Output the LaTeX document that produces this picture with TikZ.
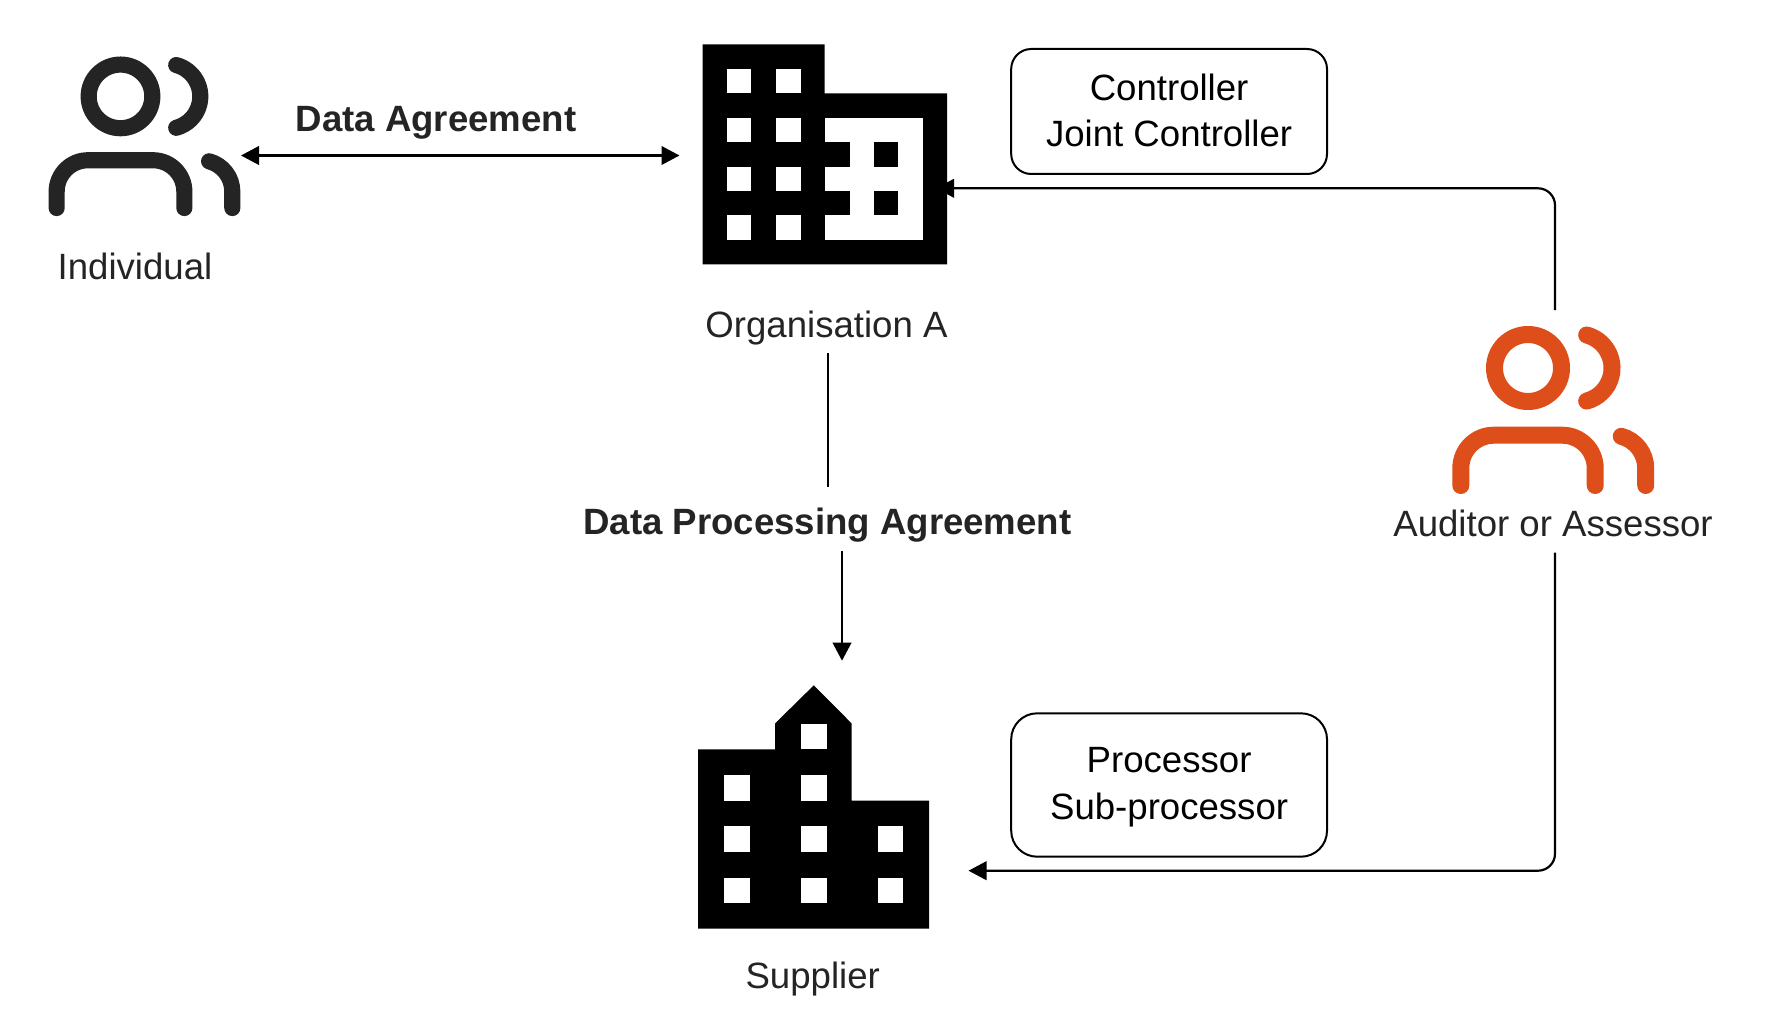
\documentclass[tikz,border=0pt]{standalone}
\usepackage{fontspec}
\setmainfont{Liberation Sans}
\usetikzlibrary{arrows.meta}
\definecolor{inkdark}{HTML}{242424}
\definecolor{auditorange}{HTML}{DD4E1A}
\newcommand{\personicon}[4]{%
  \begin{scope}[shift={(#1,#2)},scale=#3,draw=#4,line width=#3*17pt,line cap=round]
    \draw (0,0) circle[radius=33.5];
    \draw (58.65,-33) arc[start angle=-75,end angle=75,radius=34.2];
    \draw (-67.2,117.5) -- (-67.2,100.2) arc[start angle=180,end angle=270,radius=33]
      -- (34.2,67.2) arc[start angle=270,end angle=360,radius=33] -- (67.2,117.5);
    \draw (93.24,68.3) arc[start angle=-75,end angle=0,radius=33] -- (117.7,117.5);
  \end{scope}}
\newcommand{\winrect}[4]{\fill[white] (#1,#3) rectangle (#2,#4);}
\newcommand{\blkrect}[4]{\fill[black] (#1,#3) rectangle (#2,#4);}
\tikzset{
  x=1pt,y=-1pt,
  lbl/.style={anchor=base,inner sep=0pt,text=inkdark,font=\fontsize{36.6}{46.7}\selectfont},
  boldlbl/.style={lbl,font=\fontsize{36.6}{46.7}\selectfont\bfseries},
  rolebox/.style={draw=black,line width=2pt,fill=white,inner sep=0pt,align=center,
    minimum width=315.8pt,text=black,font=\fontsize{36.6}{46.7}\selectfont},
  iconbox/.style={inner sep=0pt,outer sep=0pt},
  conn/.style={draw=black,line width=2.2pt},
}
\begin{document}
\begin{tikzpicture}
\useasboundingbox (0,0) rectangle (1768,1032);
\fill[white] (0,0) rectangle (1768,1032);

% Individual
\personicon{120.5}{96.4}{0.95}{inkdark}
\node[iconbox,minimum width=192pt,minimum height=122pt] (individual) at (145,155.5) {};
\node[lbl] (individuallabel) at (135,279) {Individual};

% Organisation A
\fill[black] (702.6,44.3) -- (824.6,44.3) -- (824.6,93.3) -- (947,93.3) -- (947,264.3) -- (702.6,264.3) -- cycle;
\foreach \ya/\yb in {69/93.3,117.7/142,166.7/191,215.3/240}{
  \winrect{727.2}{751.4}{\ya}{\yb}
  \winrect{776.2}{800.5}{\ya}{\yb}
}
\winrect{824.6}{922.6}{117.7}{240}
\blkrect{824.6}{849.6}{142}{166.7}
\blkrect{824.6}{849.6}{191}{215.3}
\blkrect{874}{898.3}{142}{166.7}
\blkrect{874}{898.3}{191}{215.3}
\node[iconbox,minimum width=244.4pt,minimum height=215.8pt] (orga) at (824.8,155.5) {};
\node[lbl] (orgalabel) at (826.5,337.7) {Organisation A};

% Supplier
\fill[black] (698,749.3) -- (775.2,749.3) -- (775.2,723.3) -- (813.8,685.3) -- (851.5,723.3) -- (851.5,800.7)
  -- (929,800.7) -- (929,928.7) -- (698,928.7) -- cycle;
\foreach \xa/\xb/\ya/\yb in {
  801/826.7/724/749.3, 801/826.7/775/800.7, 801/826.7/826.3/852, 801/826.7/877.7/903.3,
  723.8/749.5/775/800.7, 723.8/749.5/826.3/852, 723.8/749.5/877.7/903.3,
  878/903.3/826.3/852, 878/903.3/877.7/903.3}{
  \winrect{\xa}{\xb}{\ya}{\yb}
}
\node[iconbox,minimum width=231pt,minimum height=243.4pt] (supplier) at (813.5,807) {};
\node[lbl] (supplierlabel) at (812.7,988.4) {Supplier};

% Auditor
\personicon{1528}{368}{1}{auditorange}
\node[iconbox,minimum width=330pt,minimum height=242.7pt] (auditor) at (1555,431.35) {};
\node[lbl] (auditorlabel) at (1553,536) {Auditor or Assessor};

% Role boxes
\node[rolebox,rounded corners=20pt,minimum height=125pt] (controllerbox) at (1169.1,111.5)
  {\rule{0pt}{30pt}Controller\\Joint Controller\rule[-5.7pt]{0pt}{5.7pt}};
\node[rolebox,rounded corners=26pt,minimum height=143.4pt] (processorbox) at (1169.1,785)
  {\rule{0pt}{30pt}Processor\\Sub-processor\rule[-7.7pt]{0pt}{7.7pt}};

% Connector labels
\node[boldlbl] (dalabel) at (436,131.7) {Data Agreement};
\node[boldlbl] (dpalabel) at (827.4,534.3) {Data Processing Agreement};

% Connectors
\coordinate (orgin) at (936,188.3);
\coordinate (supin) at (968.5,870.7);
\coordinate (dpatop) at (827.9,353.3);
\coordinate (dpamid) at (827.9,486.7);
\coordinate (dpalow) at (842,551);
\coordinate (suptop) at (842,660.7);
\draw[conn,{Triangle[length=18pt,width=18.5pt]}-{Triangle[length=18pt,width=18.5pt]},shorten >=23.1pt] (individual.east) -- (orga.west);
\draw[conn] (dpatop) -- (dpamid);
\draw[conn,-{Triangle[length=18pt,width=18.5pt]}] (dpalow) -- (suptop);
\draw[conn,rounded corners=17pt,-{Triangle[length=18pt,width=18.5pt]}] (auditor.north) |- (orgin);
\draw[conn,rounded corners=17pt,-{Triangle[length=18pt,width=18.5pt]}] (auditor.south) |- (supin);
\end{tikzpicture}
\end{document}
